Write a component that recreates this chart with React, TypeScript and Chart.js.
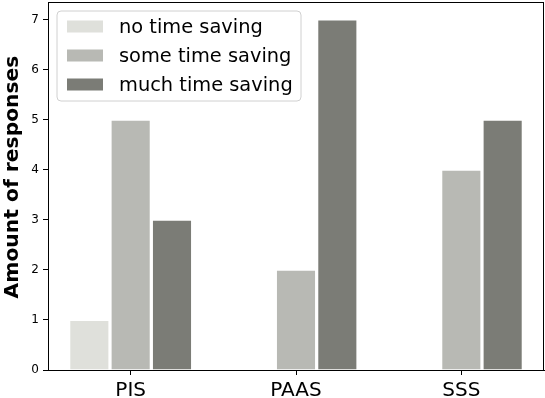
import { useEffect, useRef } from "react";
import { Chart, registerables } from "chart.js";

Chart.register(...registerables);

const categories = ["PIS", "PAAS", "SSS"];
const seriesLabels = ["no time saving", "some time saving", "much time saving"];
const noTimeSaving = [1, 0, 0];
const someTimeSaving = [5, 2, 4];
const muchTimeSaving = [3, 7, 5];
const yTicks = [0, 1, 2, 3, 4, 5, 6, 7];
const colors = ["#dfe0db", "#b8b9b4", "#7b7c76"];
const FONT = "'DejaVu Sans', sans-serif";

const framePlugin = {
  id: "frame",
  afterDraw(chart: any) {
    const { ctx, chartArea } = chart;
    ctx.save();
    ctx.strokeStyle = "#000";
    ctx.lineWidth = 1;
    ctx.strokeRect(
      Math.round(chartArea.left) + 0.5,
      Math.round(chartArea.top) + 0.5,
      Math.round(chartArea.right - chartArea.left) - 1,
      Math.round(chartArea.bottom - chartArea.top)
    );
    ctx.fillStyle = "#000";
    ctx.font = `bold 20.3px ${FONT}`;
    ctx.textAlign = "center";
    ctx.textBaseline = "middle";
    ctx.translate(13, 177);
    ctx.rotate(-Math.PI / 2);
    ctx.fillText("Amount of responses", 0, 0);
    ctx.restore();
  },
};

const legendPlugin = {
  id: "innerLegend",
  afterDraw(chart: any) {
    const { ctx, chartArea } = chart;
    const x0 = chartArea.left + 9;
    const y0 = chartArea.top + 9;
    const w = 244;
    const h = 90;
    ctx.save();
    ctx.beginPath();
    const r = 4;
    ctx.moveTo(x0 + r, y0);
    ctx.lineTo(x0 + w - r, y0);
    ctx.quadraticCurveTo(x0 + w, y0, x0 + w, y0 + r);
    ctx.lineTo(x0 + w, y0 + h - r);
    ctx.quadraticCurveTo(x0 + w, y0 + h, x0 + w - r, y0 + h);
    ctx.lineTo(x0 + r, y0 + h);
    ctx.quadraticCurveTo(x0, y0 + h, x0, y0 + h - r);
    ctx.lineTo(x0, y0 + r);
    ctx.quadraticCurveTo(x0, y0, x0 + r, y0);
    ctx.closePath();
    ctx.fillStyle = "rgba(255,255,255,0.8)";
    ctx.fill();
    ctx.strokeStyle = "#d0d0d0";
    ctx.lineWidth = 1;
    ctx.stroke();
    ctx.font = `19.4px ${FONT}`;
    ctx.textBaseline = "middle";
    ctx.textAlign = "left";
    chart.data.datasets.forEach((ds: any, i: number) => {
      const cy = y0 + 15.5 + i * 29;
      ctx.fillStyle = ds.backgroundColor;
      ctx.fillRect(x0 + 10, cy - 6, 36, 12);
      ctx.fillStyle = "#000";
      ctx.fillText(ds.label, x0 + 62, cy + 1);
    });
    ctx.restore();
  },
};

export default function App() {
  const ref = useRef<HTMLCanvasElement>(null);
  useEffect(() => {
    const values = [noTimeSaving, someTimeSaving, muchTimeSaving];
    const chart = new Chart(ref.current!, {
      type: "bar",
      data: {
        labels: categories,
        datasets: seriesLabels.map((label, i) => ({
          label,
          data: values[i],
          backgroundColor: colors[i],
          borderColor: "rgba(255,255,255,0.35)",
          borderWidth: 1,
          categoryPercentage: 0.75,
          barPercentage: 0.97,
        })),
      },
      options: {
        animation: false,
        responsive: false,
        maintainAspectRatio: false,
        layout: { padding: { top: 2, right: 1, left: 0, bottom: 0 } },
        plugins: { legend: { display: false }, tooltip: { enabled: false } },
        scales: {
          x: {
            type: "category",
            offset: true,
            grid: { display: true, drawOnChartArea: false, drawTicks: true, tickLength: 5, offset: false, color: "#000" },
            border: { display: true, color: "#000", width: 1 },
            ticks: { color: "#000", font: { family: FONT, size: 20 }, padding: 4, maxRotation: 0 },
            afterFit: (s: any) => {
              s.height = 28;
              s.paddingLeft = 0;
              s.paddingRight = 0;
            },
          },
          y: {
            type: "linear",
            min: 0,
            max: 7.35,
            afterBuildTicks: (s: any) => {
              s.ticks = yTicks.map((v) => ({ value: v }));
            },
            ticks: { color: "#000", font: { family: FONT, size: 12 }, padding: 4, includeBounds: false },
            grid: { display: true, drawOnChartArea: false, drawTicks: true, tickLength: 5, color: "#000" },
            border: { display: true, color: "#000", width: 1 },
            afterFit: (s: any) => {
              s.width = 48;
              s.paddingTop = 0;
              s.paddingBottom = 0;
            },
          },
        },
      },
      plugins: [framePlugin, legendPlugin],
    });
    return () => chart.destroy();
  }, []);
  return (
    <div style={{ position: "fixed", left: 0, top: 0, width: 545, height: 398 }}>
      <canvas ref={ref} width={545} height={398} style={{ display: "block" }} />
    </div>
  );
}
